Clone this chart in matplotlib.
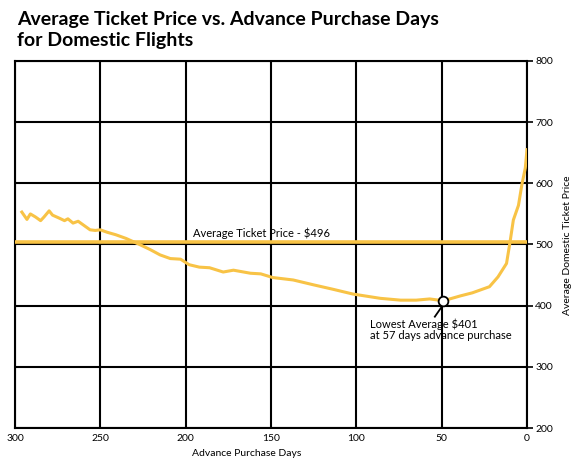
import matplotlib
matplotlib.use("Agg")
import matplotlib.pyplot as plt

# Data
days = [296, 293, 291, 288, 285, 283, 280, 278, 274, 271, 269, 266, 263, 260,
        256, 253, 250, 246, 241, 235, 231, 227, 221, 215, 209, 203, 198, 192,
        186, 178, 172, 162, 156, 149, 137, 125, 114, 102, 86, 74, 65, 57, 49,
        39, 32, 22, 17, 12, 10, 8, 5, 3, 1, 0]
prices = [553, 541, 550, 545, 539, 545, 555, 548, 543, 539, 542, 535, 538, 532,
          524, 523, 524, 520, 516, 510, 505, 500, 492, 483, 477, 476, 467, 463,
          462, 455, 458, 453, 452, 446, 442, 434, 427, 419, 412, 409, 409, 411, 408,
          416, 421, 431, 447, 469, 503, 540, 564, 598, 625, 655]
avg_line_value = 504
avg_label = "Average Ticket Price - $496"
lowest_day = 49
lowest_price = 408
lowest_label = "Lowest Average $401\nat 57 days advance purchase"
x_ticks = [300, 250, 200, 150, 100, 50, 0]
y_ticks = [200, 300, 400, 500, 600, 700, 800]
title = "Average Ticket Price vs. Advance Purchase Days\nfor Domestic Flights"
x_label = "Advance Purchase Days"
y_label = "Average Domestic Ticket Price"

YELLOW = "#F8C346"
plt.rcParams['font.family'] = ['Lato', 'DejaVu Sans']

fig = plt.figure(figsize=(5.8, 4.75), dpi=100)
ax = fig.add_axes([15/580, 1-428/475, (527-15)/580, (428-61)/475])

ax.set_xlim(300, 0)
ax.set_ylim(200, 800)
ax.set_xticks(x_ticks)
ax.set_yticks(y_ticks)
ax.grid(True, color="black", linewidth=1.5)
ax.set_axisbelow(True)
for s in ax.spines.values():
    s.set_linewidth(1.5)
    s.set_color("black")

ax.yaxis.tick_right()
ax.tick_params(axis='y', length=4, width=1.2, pad=2, labelsize=7.5)
ax.tick_params(axis='x', length=0, pad=4, labelsize=7.5)

ax.axhline(avg_line_value, color=YELLOW, linewidth=2.6, zorder=3)
ax.plot(days, prices, color=YELLOW, linewidth=2.2, zorder=4, solid_joinstyle='round')

ax.text(195.5, 513, avg_label, fontsize=8, ha='left', va='baseline', zorder=5)

ax.plot([lowest_day, 54], [lowest_price - 6, 382], color='black', linewidth=1.3, zorder=5)
ax.plot([lowest_day], [lowest_price], marker='o', markersize=7, markerfacecolor='white',
        markeredgecolor='black', markeredgewidth=1.3, zorder=6)
ax.text(92, 361, lowest_label, fontsize=8, ha='left', va='center', linespacing=1.05, zorder=5)

fig.text(247/580, 1-453/475, x_label, fontsize=7.5, ha='center', va='center')
fig.text(567/580, 1-245/475, y_label, fontsize=7.5, ha='center', va='center', rotation=90)

fig.text(17/580, 1-11/475, title, fontsize=14, fontweight='bold', ha='left', va='top',
         linespacing=1.32)

fig.savefig("out.png", dpi=100)
